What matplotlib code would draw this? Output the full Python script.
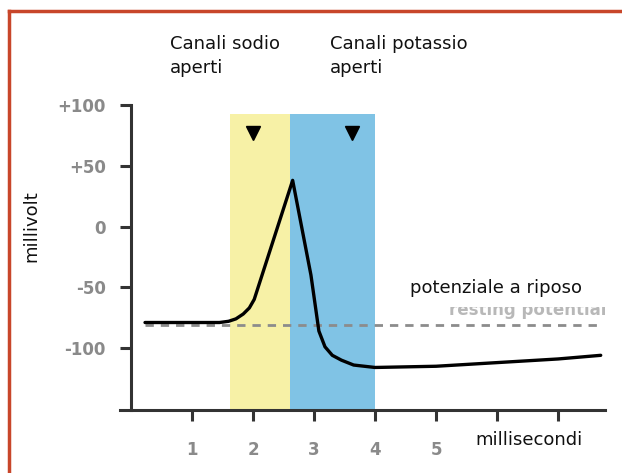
"""Potenziale d'azione: millivolt vs millisecondi con canali sodio/potassio."""

import matplotlib
matplotlib.use("Agg")
import matplotlib.pyplot as plt
from matplotlib.lines import Line2D
from matplotlib.patches import Rectangle

# data (ms, mV)
time_ms = [0.23, 1.0, 1.45, 1.6, 1.72, 1.84, 1.94, 2.02, 2.65, 2.95, 3.08, 3.18,
           3.3, 3.45, 3.65, 4.0, 5.0, 6.0, 7.0, 7.7]
voltage_mv = [-79, -79, -79, -78, -76, -72, -67, -60, 38, -40, -86, -99,
              -106, -110, -114, -116, -115, -112, -109, -106]
resting_mv = -81
sodium_span = (1.62, 2.6)
potassium_span = (2.6, 4.0)
marker_times = [2.0, 3.62]
x_ticks = [1, 2, 3, 4, 5, 6, 7]
x_labels = ["1", "2", "3", "4", "5", "", ""]
y_ticks = [100, 50, 0, -50, -100]
y_labels = ["+100", "+50", "0", "-50", "-100"]

YELLOW = "#f7f1a6"
BLUE = "#80c3e5"
BORDER = "#c8462a"
TICK_GRAY = "#8a8a8a"
AXIS = "#333333"

fig = plt.figure(figsize=(6.22, 4.73), dpi=100, facecolor="white")
ax = fig.add_axes([120 / 622, 1 - 410 / 473, 485 / 622, 305 / 473])
ax.set_xlim(-0.18, 7.77)
ax.set_ylim(-151, 100)

ax.axvspan(*sodium_span, ymax=(93 + 151) / 251, color=YELLOW, lw=0, zorder=0)
ax.axvspan(*potassium_span, ymax=(93 + 151) / 251, color=BLUE, lw=0, zorder=0)

ax.plot([time_ms[0], time_ms[-1]], [resting_mv, resting_mv], color="#8c8c8c",
        lw=2, ls=(0, (3, 2.5)), zorder=2)
ax.plot(time_ms, voltage_mv, color="black", lw=2.4, solid_capstyle="round",
        solid_joinstyle="round", zorder=3)
ax.plot(marker_times, [77] * len(marker_times), ls="none", marker="v",
        color="black", markersize=10, zorder=4)

# faded original label peeking out under the Italian one
ax.text(7.8, -69, "resting potential", color="#b8b8b8", fontsize=12,
        fontweight="bold", ha="right", va="center", zorder=1, clip_on=True)

for s in ["top", "right"]:
    ax.spines[s].set_visible(False)
ax.spines["left"].set_position(("data", 0))
ax.spines["left"].set_bounds(-151, 100)
for s in ["left", "bottom"]:
    ax.spines[s].set_color(AXIS)
    ax.spines[s].set_linewidth(2.2)

ax.set_xticks(x_ticks)
ax.set_xticklabels(x_labels)
ax.set_yticks(y_ticks)
ax.set_yticklabels(y_labels)
ax.tick_params(axis="both", direction="out", length=8, width=2.2, color=AXIS,
               labelcolor=TICK_GRAY, labelsize=12)
ax.tick_params(axis="x", pad=14)
ax.tick_params(axis="y", pad=10)
for lab in ax.get_xticklabels() + ax.get_yticklabels():
    lab.set_fontweight("bold")
ax.set_facecolor("white")

# white patch that hides most of the old English label
fig.add_artist(Rectangle((403 / 622, 1 - 307 / 473), 219 / 622, 35 / 473,
                         transform=fig.transFigure, facecolor="white",
                         edgecolor="none", zorder=4))

txt = dict(fontsize=13, color="#111111", linespacing=1.45)
fig.text(170 / 622, 1 - 35 / 473, "Canali sodio\naperti", ha="left", va="top", **txt)
fig.text(330 / 622, 1 - 35 / 473, "Canali potassio\naperti", ha="left", va="top", **txt)
fig.text(410 / 622, 1 - 288 / 473, "potenziale a riposo", ha="left", va="center",
         zorder=5, **txt)
fig.text(475 / 622, 1 - 440 / 473, "millisecondi", ha="left", va="center",
         bbox=dict(facecolor="white", edgecolor="none", pad=4), **txt)
fig.text(31 / 622, 1 - 226 / 473, "millivolt", ha="center", va="center", rotation=90,
         bbox=dict(facecolor="white", edgecolor="none", pad=3), **txt)

# orange-red frame along left and top edges
fig.add_artist(Line2D([9 / 622, 9 / 622], [0, 1 - 11 / 473], color=BORDER, lw=2.5,
                      transform=fig.transFigure))
fig.add_artist(Line2D([9 / 622, 1], [1 - 11 / 473, 1 - 11 / 473], color=BORDER, lw=2.5,
                      transform=fig.transFigure))

fig.savefig("out.png", dpi=100, facecolor="white")
